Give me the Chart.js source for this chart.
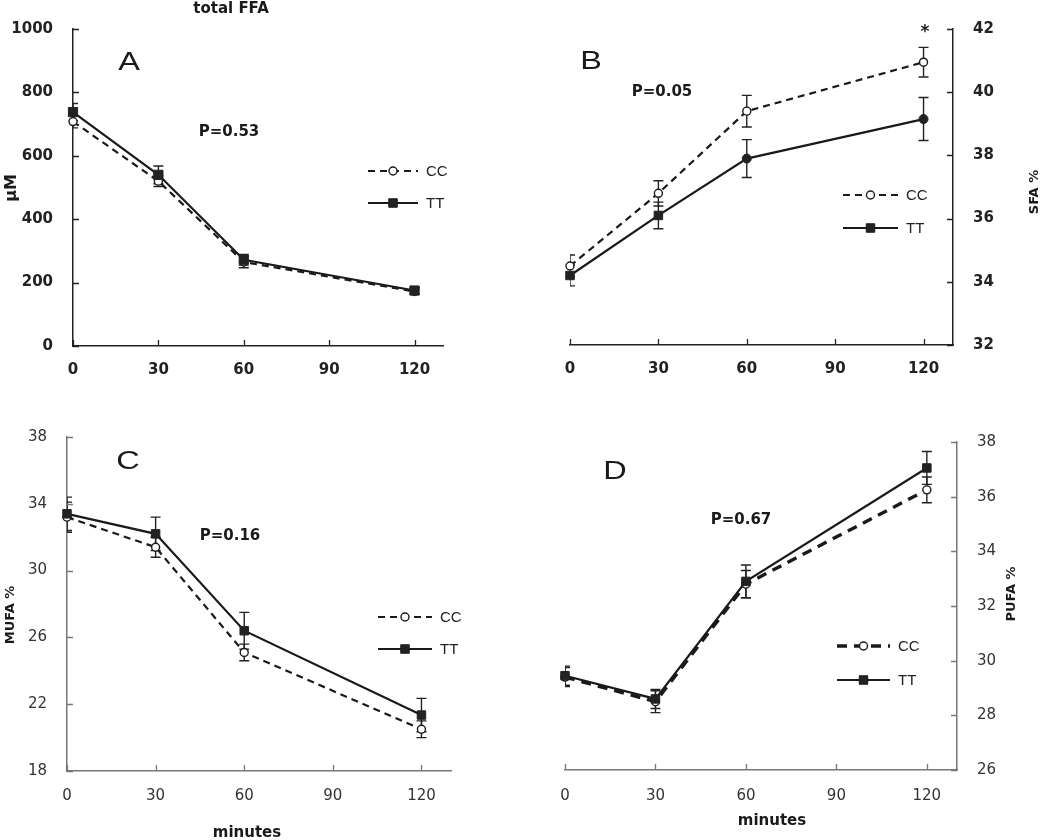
<!DOCTYPE html>
<html>
<head>
<meta charset="utf-8">
<script src="https://cdn.jsdelivr.net/npm/chart.js@4.4.0/dist/chart.umd.min.js"></script>
<style>
  body { margin: 0; background: #fff; }
  #wrap { position: relative; width: 1050px; height: 840px; }
  #wrap canvas { position: absolute; left: 0; top: 0; }
</style>
</head>
<body>
<div id="wrap">
  <canvas id="cA" width="1050" height="840"></canvas>
  <canvas id="cB" width="1050" height="840"></canvas>
  <canvas id="cC" width="1050" height="840"></canvas>
  <canvas id="cD" width="1050" height="840"></canvas>
</div>
<script>
// time points (minutes) and x ticks
const minutes = [0, 30, 60, 120];
const xTickValues = [0, 30, 60, 90, 120];

// A: total FFA (uM)
const ffaCC = [708, 520, 265, 172];
const ffaTT = [738, 540, 272, 175];
const ffaErrCC = [20, 17, 18, 8];
const ffaErrTT = [27, 28, 17, 10];
const ffaTicks = [0, 200, 400, 600, 800, 1000];

// B: SFA %
const sfaCC = [34.5, 36.8, 39.4, 40.95];
const sfaTT = [34.2, 36.1, 37.9, 39.15];
const sfaErrCC = [0.35, 0.4, 0.5, 0.47];
const sfaErrTT = [0.33, 0.42, 0.6, 0.68];
const sfaTicks = [32, 34, 36, 38, 40, 42];

// C: MUFA %
const mufaCC = [33.2, 31.4, 25.1, 20.5];
const mufaTT = [33.4, 32.2, 26.4, 21.35];
const mufaErrCC = [0.9, 0.6, 0.5, 0.5];
const mufaErrTT = [1.0, 1.0, 1.1, 1.0];
const mufaTicks = [18, 22, 26, 30, 34, 38];

// D: PUFA %
const pufaCC = [29.4, 28.5, 32.8, 36.25];
const pufaTT = [29.45, 28.6, 32.9, 37.05];
const pufaErrCC = [0.35, 0.4, 0.5, 0.47];
const pufaErrTT = [0.35, 0.35, 0.6, 0.6];
const pufaTicks = [26, 28, 30, 32, 34, 36, 38];

const seriesNames = ['CC', 'TT'];

function points(ys) {
  return minutes.map((m, i) => ({ x: m, y: ys[i] }));
}

// error bars, clipped to the plot area like the original
const errorBars = {
  id: 'errorBars',
  beforeDatasetsDraw(chart) {
    const { ctx, chartArea: a, scales: { x, y } } = chart;
    ctx.save();
    ctx.beginPath();
    ctx.rect(a.left, a.top - 20, a.right - a.left, a.bottom - a.top + 20);
    ctx.clip();
    ctx.strokeStyle = '#222';
    ctx.lineWidth = 1.4;
    chart.data.datasets.forEach(ds => {
      ds.data.forEach((p, j) => {
        const px = x.getPixelForValue(p.x);
        const top = y.getPixelForValue(p.y + ds.errors[j]);
        const bot = y.getPixelForValue(p.y - ds.errors[j]);
        ctx.beginPath();
        ctx.moveTo(px, top); ctx.lineTo(px, bot);
        ctx.moveTo(px - 5, top); ctx.lineTo(px + 5, top);
        ctx.moveTo(px - 5, bot); ctx.lineTo(px + 5, bot);
        ctx.stroke();
      });
    });
    ctx.restore();
  }
};

function drawMarker(ctx, style, r, cx, cy, fill) {
  ctx.beginPath();
  if (style === 'circle') {
    ctx.arc(cx, cy, r, 0, Math.PI * 2);
  } else {
    const s = r * Math.SQRT1_2;
    ctx.rect(cx - s, cy - s, 2 * s, 2 * s);
  }
  ctx.fillStyle = fill;
  ctx.fill();
  ctx.stroke();
}

// inward ticks, free texts and the little legend
const decor = {
  id: 'decor',
  afterDraw(chart, args, opts) {
    const { ctx, chartArea: a, scales: { x, y } } = chart;
    ctx.save();
    ctx.strokeStyle = opts.axisColor;
    ctx.lineWidth = 1.3;
    ctx.beginPath();
    x.ticks.forEach(t => {
      const px = Math.round(x.getPixelForValue(t.value)) + 0.5;
      ctx.moveTo(px, a.bottom); ctx.lineTo(px, a.bottom - 6);
    });
    const right = y.options.position === 'right';
    const edge = right ? a.right : a.left;
    y.ticks.forEach(t => {
      const py = Math.round(y.getPixelForValue(t.value)) + 0.5;
      ctx.moveTo(edge, py); ctx.lineTo(edge + (right ? -6 : 6), py);
    });
    ctx.stroke();

    opts.texts.forEach(t => {
      ctx.save();
      ctx.translate(t.x, t.y);
      if (t.rotate) ctx.rotate(-Math.PI / 2);
      if (t.stretch) ctx.scale(t.stretch, 1);
      ctx.font = t.font;
      ctx.fillStyle = '#1a1a1a';
      ctx.textAlign = 'center';
      ctx.textBaseline = 'middle';
      ctx.fillText(t.text, 0, 0);
      ctx.restore();
    });

    const L = opts.legend;
    chart.data.datasets.forEach((ds, i) => {
      const ly = L.y + i * L.gap;
      ctx.strokeStyle = ds.borderColor;
      ctx.lineWidth = ds.borderWidth;
      ctx.setLineDash(ds.borderDash || []);
      ctx.beginPath();
      ctx.moveTo(L.x, ly); ctx.lineTo(L.x + L.len, ly);
      ctx.stroke();
      ctx.setLineDash([]);
      ctx.lineWidth = ds.pointBorderWidth;
      drawMarker(ctx, i === 0 ? 'circle' : 'rect', i === 0 ? 4 : 6, L.x + L.len / 2, ly,
        i === 0 ? '#fff' : '#222');
      ctx.font = '15px "Liberation Sans", Arial, sans-serif';
      ctx.fillStyle = '#222';
      ctx.textAlign = 'left';
      ctx.textBaseline = 'middle';
      ctx.fillText(ds.label, L.x + L.len + 8, ly + 1);
    });
    ctx.restore();
  }
};

function makePanel(p) {
  const rightAxis = p.yPos === 'right';
  const yWidth = rightAxis ? 1050 - p.area.right : p.area.left;
  const xHeight = 40;
  const tickFont = { family: 'DejaVu Sans', size: 15, weight: p.bold ? 'bold' : 'normal' };
  new Chart(document.getElementById(p.id), {
    type: 'line',
    data: {
      datasets: [
        {
          label: seriesNames[0], data: points(p.cc), errors: p.errCC,
          borderColor: '#1a1a1a', borderWidth: p.ccWidth, borderDash: p.ccDash,
          pointStyle: 'circle', pointRadius: 4, pointBorderWidth: 1.4,
          pointBackgroundColor: '#fff', pointBorderColor: '#1a1a1a',
          tension: 0, clip: false, order: 1
        },
        {
          label: seriesNames[1], data: points(p.tt), errors: p.errTT,
          borderColor: '#1a1a1a', borderWidth: 2.2,
          pointStyle: p.ttStyle, pointRadius: p.ttRadius, pointBorderWidth: 1,
          pointBackgroundColor: '#222', pointBorderColor: '#222',
          tension: 0, clip: false, order: 0
        }
      ]
    },
    options: {
      responsive: false,
      animation: false,
      events: [],
      layout: {
        autoPadding: false,
        padding: {
          left: rightAxis ? p.area.left : 0,
          right: rightAxis ? 0 : 1050 - p.area.right,
          top: p.area.top,
          bottom: 840 - p.area.bottom - xHeight
        }
      },
      scales: {
        x: {
          type: 'linear', min: 0, max: 130,
          afterBuildTicks: s => { s.ticks = xTickValues.map(v => ({ value: v })); },
          afterFit: s => { s.height = xHeight; },
          grid: { display: false, drawTicks: false },
          border: { display: true, color: p.axisColor, width: 1.5 },
          ticks: { font: tickFont, color: p.tickColor, padding: p.xPad, maxRotation: 0,
                   callback: v => String(v) }
        },
        y: {
          type: 'linear', position: p.yPos, min: p.yTicks[0], max: p.yTicks[p.yTicks.length - 1],
          afterBuildTicks: s => { s.ticks = p.yTicks.map(v => ({ value: v })); },
          afterFit: s => { s.width = yWidth; },
          grid: { display: false, drawTicks: false },
          border: { display: true, color: p.axisColor, width: 1.5 },
          ticks: { font: tickFont, color: p.tickColor, padding: 20, callback: v => String(v) }
        }
      },
      plugins: {
        legend: { display: false },
        tooltip: { enabled: false },
        decor: { axisColor: p.axisColor, texts: p.texts, legend: p.legend }
      }
    },
    plugins: [errorBars, decor]
  });
}

const boldP = 'bold 15px "DejaVu Sans", Verdana, sans-serif';
const letterFont = '25px "Liberation Sans", Arial, sans-serif';

makePanel({
  id: 'cA', cc: ffaCC, tt: ffaTT, errCC: ffaErrCC, errTT: ffaErrTT, yTicks: ffaTicks,
  yPos: 'left', area: { left: 73, right: 443, top: 27, bottom: 346 },
  bold: true, axisColor: '#222', tickColor: '#222', ccDash: [7, 5], ccWidth: 2.2,
  ttStyle: 'rect', ttRadius: 6.5, xPad: 15,
  legend: { x: 368, y: 171, gap: 32, len: 50 },
  texts: [
    { text: 'total FFA', x: 231, y: 9, font: boldP },
    { text: 'μM', x: 12, y: 188, font: 'bold 16px "DejaVu Sans"', rotate: true },
    { text: 'A', x: 129, y: 63, font: letterFont, stretch: 1.3 },
    { text: 'P=0.53', x: 229, y: 132, font: boldP }
  ]
});

makePanel({
  id: 'cB', cc: sfaCC, tt: sfaTT, errCC: sfaErrCC, errTT: sfaErrTT, yTicks: sfaTicks,
  yPos: 'right', area: { left: 570, right: 953, top: 25, bottom: 345 },
  bold: true, axisColor: '#222', tickColor: '#222', ccDash: [7, 5], ccWidth: 2.2,
  ttStyle: ['rect', 'rect', 'circle', 'circle'], ttRadius: [6, 6, 4.5, 4.5], xPad: 15,
  legend: { x: 843, y: 195, gap: 33, len: 55 },
  texts: [
    { text: 'B', x: 591, y: 62, font: letterFont, stretch: 1.3 },
    { text: 'P=0.05', x: 662, y: 92, font: boldP },
    { text: '*', x: 925, y: 33, font: 'bold 17px "DejaVu Sans"' },
    { text: 'SFA %', x: 1035, y: 192, font: 'bold 13px "DejaVu Sans"', rotate: true }
  ]
});

makePanel({
  id: 'cC', cc: mufaCC, tt: mufaTT, errCC: mufaErrCC, errTT: mufaErrTT, yTicks: mufaTicks,
  yPos: 'left', area: { left: 67, right: 451, top: 437, bottom: 771 },
  bold: false, axisColor: '#777', tickColor: '#333', ccDash: [7, 5], ccWidth: 2.2,
  ttStyle: 'rect', ttRadius: 6, xPad: 16,
  legend: { x: 378, y: 617, gap: 32, len: 54 },
  texts: [
    { text: 'C', x: 128, y: 462, font: letterFont, stretch: 1.3 },
    { text: 'P=0.16', x: 230, y: 536, font: boldP },
    { text: 'MUFA %', x: 11, y: 615, font: 'bold 13px "DejaVu Sans"', rotate: true },
    { text: 'minutes', x: 247, y: 833, font: boldP }
  ]
});

makePanel({
  id: 'cD', cc: pufaCC, tt: pufaTT, errCC: pufaErrCC, errTT: pufaErrTT, yTicks: pufaTicks,
  yPos: 'right', area: { left: 565, right: 957, top: 442, bottom: 770 },
  bold: false, axisColor: '#777', tickColor: '#333', ccDash: [10, 7], ccWidth: 3.4,
  ttStyle: 'rect', ttRadius: 6, xPad: 17,
  legend: { x: 837, y: 646, gap: 34, len: 53 },
  texts: [
    { text: 'D', x: 615, y: 472, font: letterFont, stretch: 1.3 },
    { text: 'P=0.67', x: 741, y: 520, font: boldP },
    { text: 'PUFA %', x: 1012, y: 594, font: 'bold 13px "DejaVu Sans"', rotate: true },
    { text: 'minutes', x: 772, y: 821, font: boldP }
  ]
});
</script>
</body>
</html>
